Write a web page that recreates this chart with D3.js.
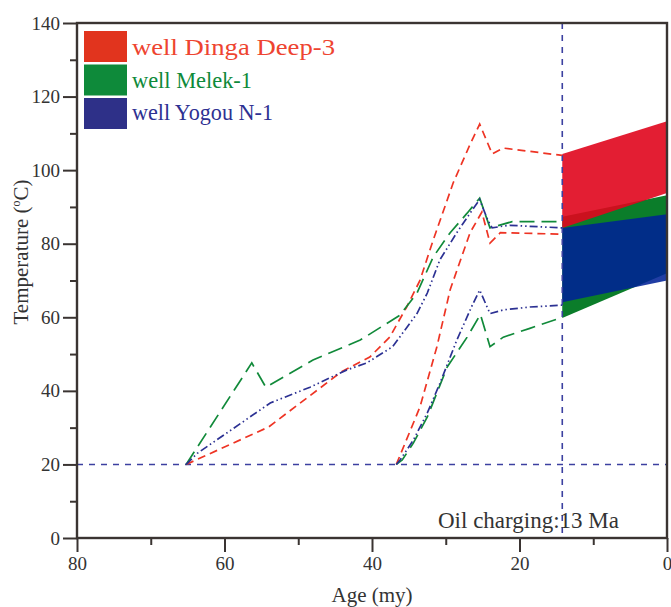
<!DOCTYPE html>
<html>
<head>
<meta charset="utf-8">
<script src="https://cdn.jsdelivr.net/npm/d3@7"></script>
<style>
  body { margin: 0; background: #fff; }
  svg { display: block; font-family: "Liberation Serif", "Times New Roman", serif; }
</style>
</head>
<body>
<div id="chart"></div>
<script>
// [age (Ma), temperature (°C)]
const dingaUpper = [[65.2,20],[54,30.2],[44.2,45.1],[40.3,49.2],[37.6,54.6],[35.3,62.8],[33.5,70],[31.7,81],[29,96.5],[26.7,107],[25.4,112.5],[23.7,104.4],[22.2,106],[14.2,104]];
const dingaLower = [[36.7,20],[33.5,35.6],[31.2,52],[29.4,67.5],[26.7,83],[25.1,88.6],[24,80.2],[22.6,83],[14.2,82.6]];
const melekUpper = [[65.2,20],[56.3,47.6],[54.4,41],[48,48.4],[41.6,53.8],[36.2,60.6],[33.9,66.6],[31.7,76.4],[29.4,83],[27.1,88.3],[25.4,92.4],[24,84.3],[21,86],[14.2,86]];
const melekLower = [[36.7,20],[35.9,21.2],[34.4,25.8],[32.5,32.9],[29.8,46.5],[27.1,54.6],[25.3,60.8],[24,52],[22.2,54.6],[18.6,57],[14.2,60]];
const yogouUpper = [[65.2,20],[63.7,23],[53.8,36.7],[48.4,41],[43.4,45.7],[40.7,47.6],[37.2,52],[33.9,61],[32.5,66.6],[30.8,75.6],[28.5,83],[26.7,88.3],[25.4,92],[24.3,86.4],[23.7,84.3],[22.2,84.8],[21.3,85],[14.2,84.3]];
const yogouLower = [[36.7,20],[36.2,21.2],[34.4,26.6],[32.5,34],[30.8,42],[28.5,53.8],[26.4,63.3],[25.4,67.4],[24,61],[22.2,62],[18.6,62.8],[14.2,63.3]];

// present-day ranges: [age, low, high]
const dingaBand = [[14.2,84.3,104.4],[0,93.8,113.3]];
const melekBand = [[14.2,59.8,87.3],[0,72,93.2]];
const yogouBand = [[14.2,64.1,84.3],[0,70,88]];

const wellNames = ["well Dinga Deep-3", "well Melek-1", "well Yogou N-1"];
const chargeAge = 14.2;
const surfaceTemp = 20;
const xMajor = [80, 60, 40, 20, 0];
const xMinor = [70, 50, 30, 10];
const yMajor = [0, 20, 40, 60, 80, 100, 120, 140];
const yMinor = [10, 30, 50, 70, 90, 110, 130];

let width = 671, height = 607;
let padLeft = 77, padRight = 667, padTop = 23, padBottom = 538;

let x = d3.scaleLinear().domain([80, 0]).range([padLeft, padRight]);
let y = d3.scaleLinear().domain([0, 140]).range([padBottom, padTop]);

var svg = d3.select('#chart').append('svg')
    .attr('width', width)
    .attr('height', height);

const axisColor = '#3a3432';

// bands
var area = d3.area().x(d => x(d[0])).y0(d => y(d[1])).y1(d => y(d[2]));
svg.append('path').datum(melekBand).attr('d', area).attr('fill', '#0b7d2a');
svg.append('path').datum(yogouBand).attr('d', area).attr('fill', '#002196').attr('fill-opacity', 0.87);
svg.append('path').datum(dingaBand).attr('d', area).attr('fill', '#e0051d').attr('fill-opacity', 0.9);

// reference lines
svg.append('line')
    .attr('x1', x(80)).attr('x2', x(0))
    .attr('y1', y(surfaceTemp)).attr('y2', y(surfaceTemp))
    .attr('stroke', '#3c40a0').attr('stroke-width', 1.6).attr('stroke-dasharray', '6,6');
svg.append('line')
    .attr('x1', x(chargeAge)).attr('x2', x(chargeAge))
    .attr('y1', y(140)).attr('y2', y(0))
    .attr('stroke', '#3c40a0').attr('stroke-width', 1.6).attr('stroke-dasharray', '6,6');

// well curves
var line = d3.line().x(d => x(d[0])).y(d => y(d[1]));
const curves = [
  {data: dingaUpper, color: '#ee3424', dash: '8,5'},
  {data: dingaLower, color: '#ee3424', dash: '8,5'},
  {data: melekUpper, color: '#118a3a', dash: '15,7'},
  {data: melekLower, color: '#118a3a', dash: '15,7'},
  {data: yogouUpper, color: '#2c3193', dash: '8,3,1.5,3,1.5,3'},
  {data: yogouLower, color: '#2c3193', dash: '8,3,1.5,3,1.5,3'}
];
svg.selectAll('path.curve')
    .data(curves)
    .enter()
    .append('path')
    .attr('class', 'curve')
    .attr('d', d => line(d.data))
    .attr('fill', 'none')
    .attr('stroke', d => d.color)
    .attr('stroke-width', 1.7)
    .attr('stroke-dasharray', d => d.dash);

// axes
function styleAxis(g) {
  g.select('.domain').remove();
  g.selectAll('.tick line').attr('stroke', axisColor).attr('stroke-width', 2);
  g.selectAll('.tick text').attr('fill', '#333').style('font-size', '19px')
    .style('font-family', '"Liberation Serif", serif');
}
svg.append('g').attr('transform', 'translate(' + padLeft + ',0)')
    .call(d3.axisLeft(y).tickValues(yMajor).tickSize(14).tickPadding(3).tickFormat(d3.format('d')))
    .call(styleAxis);
svg.append('g').attr('transform', 'translate(' + padLeft + ',0)')
    .call(d3.axisLeft(y).tickValues(yMinor).tickSize(7).tickFormat(''))
    .call(styleAxis);
svg.append('g').attr('transform', 'translate(0,' + padBottom + ')')
    .call(d3.axisBottom(x).tickValues(xMajor).tickSize(14).tickPadding(5).tickFormat(d3.format('d')))
    .call(styleAxis);
svg.append('g').attr('transform', 'translate(0,' + padBottom + ')')
    .call(d3.axisBottom(x).tickValues(xMinor).tickSize(7).tickFormat(''))
    .call(styleAxis);

// frame
svg.append('rect')
    .attr('x', padLeft).attr('y', padTop)
    .attr('width', padRight - padLeft).attr('height', padBottom - padTop)
    .attr('fill', 'none').attr('stroke', axisColor).attr('stroke-width', 2.4);

// titles
svg.append('text')
    .attr('x', (padLeft + padRight) / 2).attr('y', 602)
    .attr('text-anchor', 'middle').attr('fill', '#333')
    .style('font-size', '21px')
    .text('Age (my)');
var yt = svg.append('text')
    .attr('transform', 'translate(28,' + 252 + ') rotate(-90)')
    .attr('text-anchor', 'middle').attr('fill', '#333')
    .style('font-size', '21px');
yt.append('tspan').text('Temperature (');
yt.append('tspan').text('o').style('font-size', '12px').attr('dy', '-8');
yt.append('tspan').text('C)').attr('dy', '8');

svg.append('text')
    .attr('x', 438).attr('y', 528)
    .attr('fill', '#333')
    .style('font-size', '23px')
    .text('Oil charging:13 Ma');

// legend
const legendFill = ['#e1341e', '#0e8a3a', '#2e3088'];
const legendText = ['#ee4430', '#0e8a3a', '#2e3192'];
const legendWidth = [203, 120, 141];
var legend = svg.append('g');
legend.selectAll('rect')
    .data(wellNames)
    .enter()
    .append('rect')
    .attr('x', 84)
    .attr('y', (d, i) => 31 + i * 33.5)
    .attr('width', 43)
    .attr('height', 31)
    .attr('fill', (d, i) => legendFill[i]);
legend.selectAll('text')
    .data(wellNames)
    .enter()
    .append('text')
    .attr('x', 132)
    .attr('y', (d, i) => 55 + i * 32.5)
    .attr('fill', (d, i) => legendText[i])
    .attr('textLength', (d, i) => legendWidth[i])
    .attr('lengthAdjust', 'spacingAndGlyphs')
    .style('font-size', '22.5px')
    .text(d => d);
</script>
</body>
</html>
